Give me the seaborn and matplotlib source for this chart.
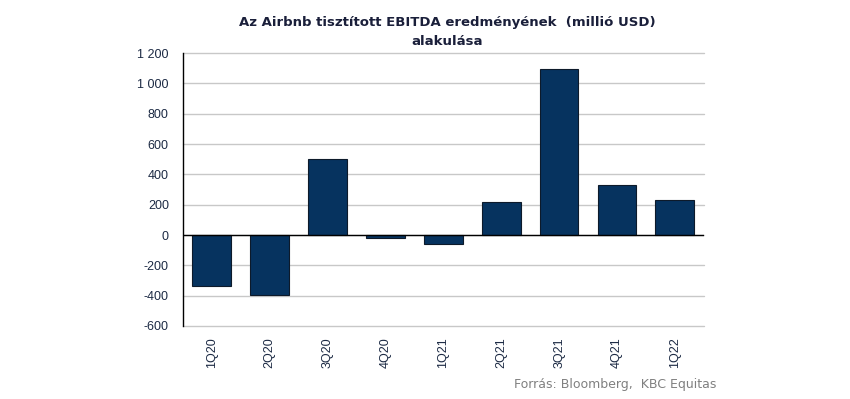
import matplotlib
matplotlib.use("Agg")
import matplotlib.pyplot as plt
import matplotlib.ticker as mticker
import pandas as pd
import seaborn as sns

# quarterly adjusted EBITDA (million USD)
quarters = ["1Q20", "2Q20", "3Q20", "4Q20", "1Q21", "2Q21", "3Q21", "4Q21", "1Q22"]
ebitda = [-334, -397, 501, -17, -59, 217, 1097, 333, 229]

df = pd.DataFrame({"quarter": quarters, "ebitda": ebitda})

sns.set_style("white")
plt.rcParams["font.family"] = ["DejaVu Sans"]

fig = plt.figure(figsize=(8.5, 3.99), dpi=100)
ax = fig.add_axes([0.215, 0.183, 0.613, 0.684])

sns.barplot(data=df, x="quarter", y="ebitda", color="#06335F", width=0.67,
            edgecolor="#0d1a2a", linewidth=0.8, saturation=1, ax=ax, zorder=3)

ax.set_ylim(-600, 1200)
ax.set_yticks(range(-600, 1201, 200))
ax.yaxis.set_major_formatter(mticker.FuncFormatter(lambda v, p: f"{int(v):,}".replace(",", " ")))
ax.set_xlim(-0.5, len(quarters) - 0.5)
ax.grid(axis="y", color="#c8c8c8", linewidth=1, zorder=0)
for gl in ax.get_ygridlines():
    gl.set_clip_on(False)
ax.axhline(0, color="black", linewidth=1, zorder=4)

for s in ["top", "right", "bottom"]:
    ax.spines[s].set_visible(False)
ax.spines["left"].set_color("black")
ax.spines["left"].set_linewidth(1)

ax.tick_params(axis="y", length=0, labelsize=9, labelcolor="#1c2a44", pad=10)
ax.tick_params(axis="x", length=0, labelsize=9, labelcolor="#1c2a44", rotation=90, pad=8)
for lab in ax.get_xticklabels() + ax.get_yticklabels():
    lab.set_family("Liberation Sans")
ax.set_xlabel("")
ax.set_ylabel("")

fig.text(0.526, 0.96, "Az Airbnb tisztított EBITDA eredményének  (millió USD)\nalakulása",
         ha="center", va="top", fontsize=9.5, fontweight="bold", color="#1a1f3a",
         linespacing=1.6)
fig.text(0.843, 0.02, "Forrás: Bloomberg,  KBC Equitas", ha="right", va="bottom",
         fontsize=9, color="#808080")

plt.savefig("out.png", dpi=100)
plt.close()
